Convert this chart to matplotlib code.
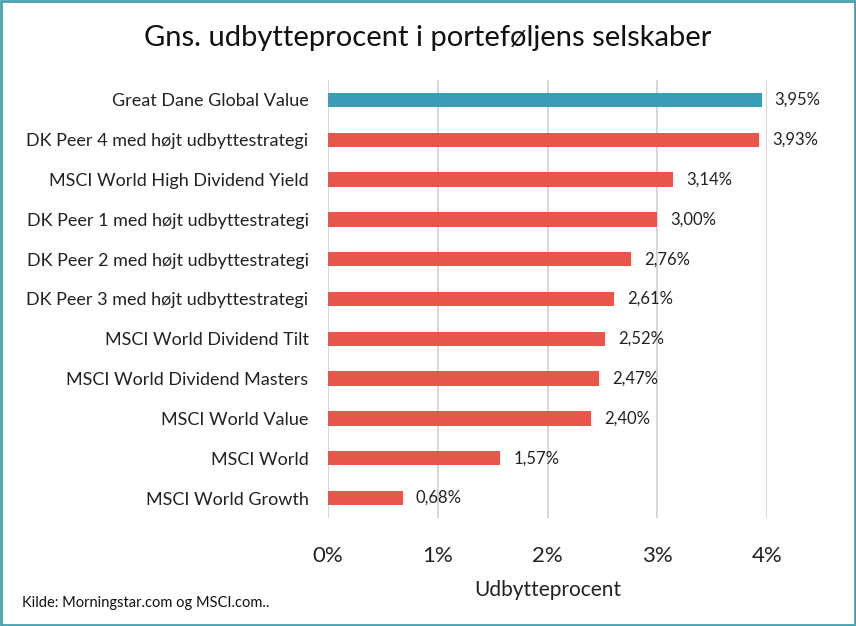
import matplotlib.pyplot as plt
from matplotlib.patches import Rectangle

# data (top to bottom)
names = ["Great Dane Global Value",
         "DK Peer 4 med højt udbyttestrategi",
         "MSCI World High Dividend Yield",
         "DK Peer 1 med højt udbyttestrategi",
         "DK Peer 2 med højt udbyttestrategi",
         "DK Peer 3 med højt udbyttestrategi",
         "MSCI World Dividend Tilt",
         "MSCI World Dividend Masters",
         "MSCI World Value",
         "MSCI World",
         "MSCI World Growth"]
values = [3.95, 3.93, 3.14, 3.00, 2.76, 2.61, 2.52, 2.47, 2.40, 1.57, 0.68]
ticks = [0, 1, 2, 3, 4]

plt.rcParams['font.family'] = ['Lato', 'DejaVu Sans']

teal = "#3a9db5"
red = "#e8554a"
colors = [teal] + [red] * (len(values) - 1)

fig = plt.figure(figsize=(8.56, 6.26), dpi=100)
ax = fig.add_axes([328 / 856, 1 - 518 / 626, (767 - 328) / 856, (518 - 80) / 626])

ypos = list(range(len(values)))
ax.barh(ypos, values, height=0.36, color=colors, zorder=3)
for y, v in zip(ypos, values):
    ax.text(v + 0.12, y, "{:.2f}%".format(v).replace(".", ","), va="center", ha="left",
            fontsize=12, color="#222222", clip_on=False)

ax.set_xlim(0, 4)
ax.set_ylim(len(values) - 0.5, -0.5)
ax.set_yticks(ypos)
ax.set_yticklabels(names, fontsize=13, color="#222222")
ax.set_xticks(ticks)
ax.set_xticklabels(["{}%".format(t) for t in ticks], fontsize=16, color="#222222")
ax.tick_params(axis="both", length=0)
ax.tick_params(axis="x", pad=20)
ax.tick_params(axis="y", pad=14)
ax.grid(axis="x", color="#d0d0d0", linewidth=1.2, zorder=0)
for s in ax.spines.values():
    s.set_visible(False)
ax.set_xlabel("Udbytteprocent", fontsize=15, color="#222222", labelpad=10)

fig.text(428 / 856, 1 - 38 / 626, "Gns. udbytteprocent i porteføljens selskaber",
         ha="center", va="center", fontsize=21, color="#111111")
fig.text(22 / 856, 1 - 603 / 626, "Kilde: Morningstar.com og MSCI.com..",
         ha="left", va="center", fontsize=10.5, color="#111111")

fig.patches.append(Rectangle((0.001, 0.001), 0.998, 0.998, transform=fig.transFigure,
                             fill=False, edgecolor="#4a9fae", linewidth=2))

fig.savefig("out.png", dpi=100)
